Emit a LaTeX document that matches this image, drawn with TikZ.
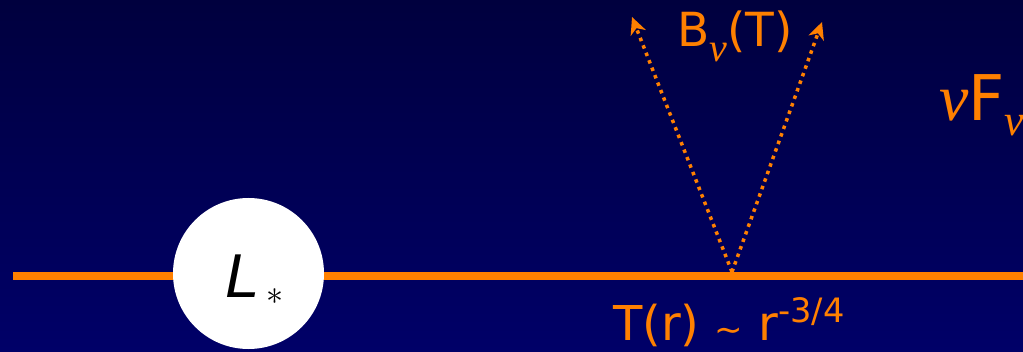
\RequirePackage{fix-cm}
\documentclass[tikz,border=0pt]{standalone}
\usepackage{fontspec}
\setmainfont{DejaVu Sans}
\newfontfamily\starfont{Liberation Sans}
\newfontfamily\grkfont{Liberation Serif}
\usetikzlibrary{arrows.meta, positioning, calc}

\definecolor{navytop}{RGB}{0,0,62}
\definecolor{navybot}{RGB}{0,0,104}
\definecolor{discorange}{RGB}{255,128,0}

\begin{document}
\begin{tikzpicture}[x=1pt, y=1pt,
      lbl/.style={inner sep=0pt, anchor=base west, text=discorange},
      disc/.style={line width=8pt, draw=discorange},
      ray/.style={discorange, line width=3.5pt, dash pattern=on 3.5pt off 4.5pt,
                  -{Stealth[length=17pt, width=16pt, inset=5pt]}},
      starball/.style={circle, fill=white, minimum size=151pt, inner sep=0pt}
    ]

    % background
    \useasboundingbox (0,0) rectangle (1023,351);
    \clip (0,0) rectangle (1023,351);
    \shade[top color=navytop, bottom color=navybot] (0,0) rectangle (1023,351);

    % disc line and star
    \coordinate (lstart) at (13,75);
    \coordinate (lend) at (1030,75);
    \draw[disc] (lstart) -- (lend);
    \node[starball] (star) at (248.5,77.5) {};
    \node[inner sep=0pt, anchor=base west] (lum) at (225,54)
      {\starfont\fontsize{62}{62}\selectfont\itshape L\hspace{7pt}\raisebox{-7pt}{\fontsize{34}{34}\selectfont$\ast$}};

    % local blackbody emission
    \coordinate (src) at (732,79);
    \coordinate (tipl) at (632,334);
    \coordinate (tipr) at (822,329);
    \draw[ray] (src) -- (tipl);
    \draw[ray] (src) -- (tipr);

    % labels
    \node[lbl, font=\fontsize{47}{47}\selectfont] (bnu) at (677,304)
      {B\raisebox{-15pt}{\grkfont\itshape\fontsize{40}{40}\selectfont ν}(T)};
    \node[lbl, font=\fontsize{48}{48}\selectfont] (temp) at (613,11)
      {T(r) \raisebox{-1pt}{\fontsize{34}{34}\selectfont\textasciitilde} r\textsuperscript{-3/4}};
    \node[lbl, font=\fontsize{63}{63}\selectfont] (flux) at (939,230)
      {{\grkfont\itshape\fontsize{66}{66}\selectfont ν}F\raisebox{-15pt}{\grkfont\itshape\fontsize{44}{44}\selectfont ν}};

  \end{tikzpicture}
\end{document}
